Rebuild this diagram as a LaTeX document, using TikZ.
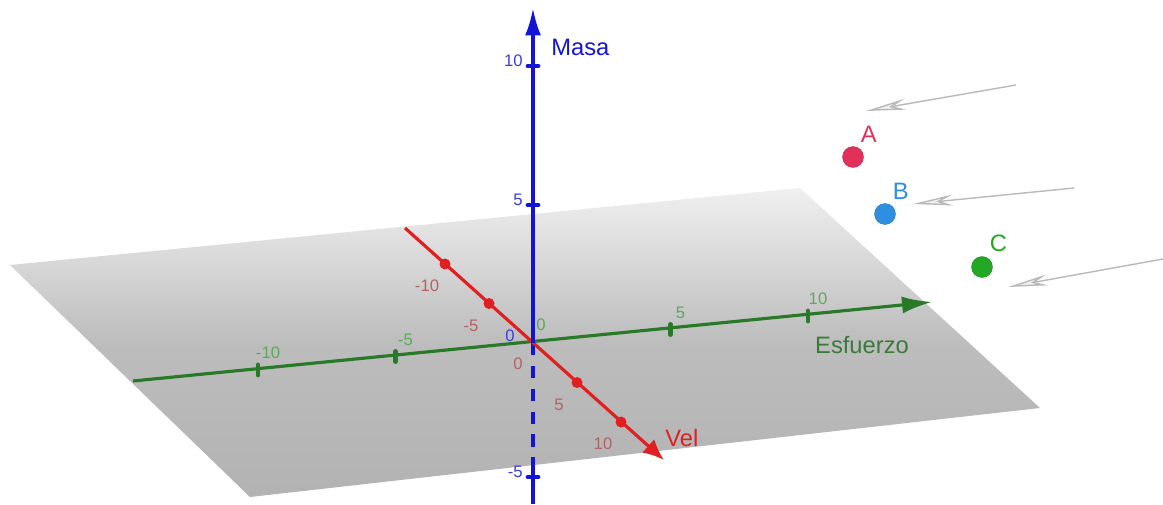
\documentclass[tikz,border=0pt]{standalone}
\usepackage{fontspec}
\setmainfont{Liberation Sans}
\usetikzlibrary{arrows.meta, positioning, calc}
\usepackage{xcolor}
\definecolor{MasaBlue}{HTML}{1414D6}
\definecolor{EsfGreen}{HTML}{287A28}
\definecolor{VelRed}{HTML}{E02020}
\definecolor{MasaLbl}{HTML}{3C3CDC}
\definecolor{EsfLbl}{HTML}{5AAA5A}
\definecolor{VelLbl}{HTML}{B06464}
\definecolor{PuntoA}{HTML}{E2305A}
\definecolor{PuntoB}{HTML}{2E8EE0}
\definecolor{PuntoC}{HTML}{22A822}

\begin{document}
\begin{tikzpicture}[x=0.02cm, y=-0.02cm,
    axis/.style={line width=1.8pt},
    ticklbl/.style={font=\fontsize{9.5}{11}\selectfont, inner sep=0pt},
    axislbl/.style={font=\fontsize{13.5}{15}\selectfont, inner sep=0pt},
    punto/.style={circle, inner sep=0pt, minimum size=0.42cm},
    vector/.style={gray!55, line width=0.8pt, -{Stealth[length=8mm, width=2.2mm, fill=gray!12]}}]
        \useasboundingbox (0,0) rectangle (1163,504);
        % plano
        \shade[top color=gray!12, bottom color=gray!60, middle color=gray!52]
            (10,265) -- (800,188) -- (1040,408) -- (250,497) -- cycle;
        % ejes
        \coordinate (O) at (533,343);
        \coordinate (masaTop) at (533,8);
        \coordinate (masaPlane) at (533,465);
        \coordinate (masaBot) at (533,504);
        \coordinate (esfIni) at (133,381);
        \coordinate (esfFin) at (932,302);
        \coordinate (velIni) at (405,228);
        \coordinate (velFin) at (664,460);
        \draw[axis, MasaBlue, dash pattern=on 7pt off 6pt] (O) -- (masaPlane);
        \draw[axis, MasaBlue] (masaPlane) -- (masaBot);
        \draw[axis, EsfGreen, -{Latex[length=6mm, width=3.4mm]}] (esfIni) -- (esfFin);
        \draw[axis, VelRed, -{Latex[length=4.2mm, width=3.6mm]}] (velIni) -- (velFin);
        \draw[axis, MasaBlue, -{Latex[length=5.5mm, width=3.2mm]}] (O) -- (masaTop);
        % marcas
        \foreach \k/\n in {-10/m10, -5/m5, 5/p5, 10/p10} {
            \coordinate (esf\n) at ($(O)+\k*(27.5,-2.7)$);
            \draw[EsfGreen, line width=2.8pt, line cap=round] ($(esf\n)+(0,-5)$) -- ($(esf\n)+(0,5)$);
            \node[ticklbl, text=EsfLbl] (esfLbl\n) at ($(esf\n)+(10,-17)$) {\k};
            \coordinate (vel\n) at ($(O)+\k*(8.8,7.9)$);
            \fill[VelRed] (vel\n) circle (5.5);
            \node[ticklbl, text=VelLbl] (velLbl\n) at ($(vel\n)+(-18,22)$) {\k};
        }
        \foreach \k/\n/\y in {10/p10/66, 5/p5/205, -5/m5/477} {
            \coordinate (masa\n) at (533,\y);
            \draw[MasaBlue, line width=2.8pt, line cap=round] ($(masa\n)+(-5,0)$) -- ($(masa\n)+(5,0)$);
            \node[ticklbl, text=MasaLbl, anchor=east] (masaLbl\n) at ($(masa\n)+(-10,-5)$) {\k};
        }
        \node[ticklbl, text=MasaLbl] (masaLbl0) at (510,336) {0};
        \node[ticklbl, text=EsfLbl] (esfLbl0) at (541,325) {0};
        \node[ticklbl, text=VelLbl] (velLbl0) at (518,364) {0};
        % nombres de los ejes
        \node[axislbl, text=MasaBlue, anchor=west] (masaName) at (551,47) {Masa};
        \node[axislbl, text=EsfGreen!80!gray] (esfName) at (862,345) {Esfuerzo};
        \node[axislbl, text=VelRed, anchor=west] (velName) at (665,438) {Vel};
        % puntos
        \node[punto, fill=PuntoA, draw=PuntoA!80!black, very thin] (A) at (853,157) {};
        \node[punto, fill=PuntoB, draw=PuntoB!80!black, very thin] (B) at (885,214) {};
        \node[punto, fill=PuntoC, draw=PuntoC!80!black, very thin] (C) at (982,267) {};
        \node[axislbl, text=PuntoA, above right=4pt and 0pt of A] (lblA) {A};
        \node[axislbl, text=PuntoB, above right=4pt and 0pt of B] (lblB) {B};
        \node[axislbl, text=PuntoC, above right=4pt and 0pt of C] (lblC) {C};
        % vectores
        \coordinate (vA1) at (1016,85);
        \coordinate (vA2) at (866,111);
        \coordinate (vB1) at (1074,188);
        \coordinate (vB2) at (913,204);
        \coordinate (vC1) at (1163,259);
        \coordinate (vC2) at (1008,287);
        \draw[vector] (vA1) -- (vA2);
        \draw[vector] (vB1) -- (vB2);
        \draw[vector] (vC1) -- (vC2);
\end{tikzpicture}
\end{document}
